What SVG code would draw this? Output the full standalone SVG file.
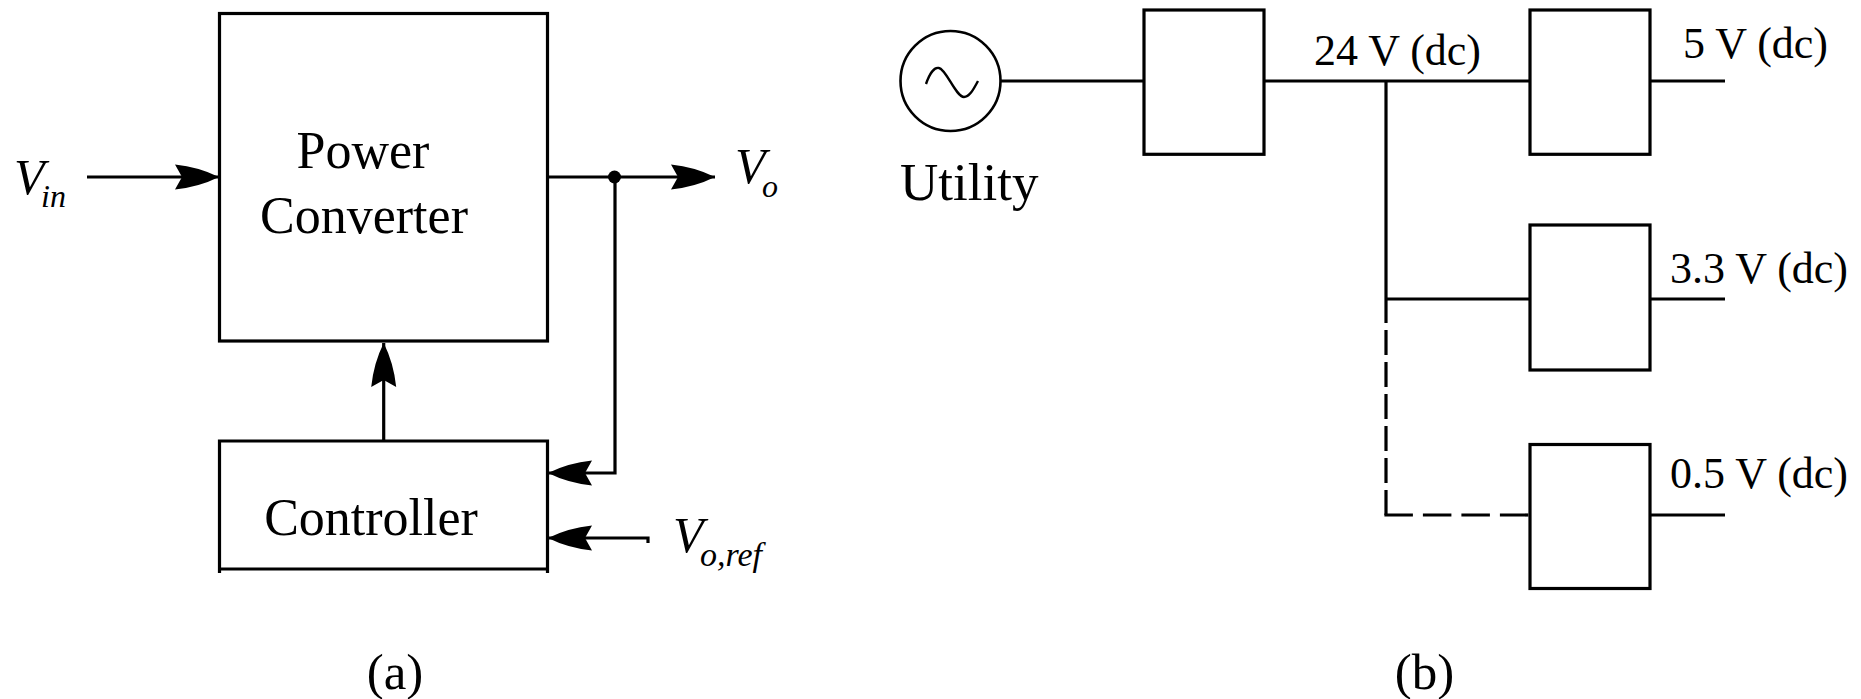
<svg xmlns="http://www.w3.org/2000/svg" width="1861" height="699" viewBox="0 0 1861 699">
<style>
.box{fill:none;stroke:#000;stroke-width:3.2}
.ln{fill:none;stroke:#000;stroke-width:3.2}
.t{font-family:"Liberation Serif","Times New Roman",serif;fill:#000}
.big{font-size:52px}
.lab{font-size:44px}
.it{font-style:italic}
</style>
<defs>
<marker id="arr" markerUnits="userSpaceOnUse" markerWidth="60" markerHeight="40" refX="0" refY="0" orient="auto" overflow="visible">
<path d="M0,0 Q-20,-10 -44,-12.5 L-37,0 L-44,12.5 Q-20,10 0,0 Z" fill="#000"/>
</marker>
</defs>
<rect width="1861" height="699" fill="#fff"/>
<g id="connectors">
<path class="ln" d="M87,177 H219" marker-end="url(#arr)"/>
<path class="ln" d="M547,177 H715" marker-end="url(#arr)"/>
<path class="ln" d="M615,177 V473 H548" marker-end="url(#arr)"/>
<path class="ln" d="M648,543 V538 H548" marker-end="url(#arr)"/>
<path class="ln" d="M383.7,441 V343" marker-end="url(#arr)"/>
<circle cx="614.5" cy="177" r="6.5" fill="#000"/>
<path class="ln" d="M1001,81 H1144"/>
<path class="ln" d="M1264,81 H1530"/>
<path class="ln" d="M1386,81 V323"/>
<path class="ln" d="M1386,299 H1530"/>
<path class="ln" d="M1386,330 V516.5" stroke-dasharray="25 7"/>
<path class="ln" d="M1384.4,515 H1530" stroke-dasharray="28.5 10"/>
<path class="ln" d="M1650,81 H1725"/>
<path class="ln" d="M1650,299 H1725"/>
<path class="ln" d="M1650,515 H1725"/>
</g>
<g id="power-converter">
<rect class="box" x="219.5" y="13.5" width="328" height="327.5"/>
<text class="t big" x="363" y="168" text-anchor="middle">Power</text>
<text class="t big" x="364" y="233" text-anchor="middle">Converter</text>
</g>
<g id="controller">
<path class="box" d="M219.5,573 V441 H547.5 V573 M219.5,569 H547.5"/>
<text class="t big" x="371" y="535" text-anchor="middle">Controller</text>
</g>
<g id="vin">
<text class="t it" x="14" y="194" font-size="50">V</text>
<text class="t it" x="41" y="207" font-size="32">in</text>
</g>
<g id="vo">
<text class="t it" x="735" y="183" font-size="50">V</text>
<text class="t it" x="762" y="197" font-size="32">o</text>
</g>
<g id="voref">
<text class="t it" x="673" y="552" font-size="50">V</text>
<text class="t it" x="700" y="566" font-size="34">o,ref</text>
</g>
<g id="label-a">
<text class="t" x="395" y="689" font-size="51" text-anchor="middle">(a)</text>
</g>
<g id="utility">
<circle cx="950.5" cy="81" r="50" fill="none" stroke="#000" stroke-width="2.6"/>
<path d="M926,84 C930,72 935,67 939,68 C946,69 956,97 964,97 C970,97 974,88 978,81" fill="none" stroke="#000" stroke-width="2.4"/>
<text class="t" x="900" y="200" font-size="53">Utility</text>
</g>
<g id="converter-main">
<rect class="box" x="1144" y="10" width="120" height="144.3"/>
</g>
<g id="bus-label">
<text class="t lab" x="1314" y="65">24 V (dc)</text>
</g>
<g id="converter-5v">
<rect class="box" x="1530" y="10" width="120" height="144.3"/>
<text class="t lab" x="1683" y="58">5 V (dc)</text>
</g>
<g id="converter-3v3">
<rect class="box" x="1530" y="225" width="120" height="145"/>
<text class="t lab" x="1670" y="283">3.3 V (dc)</text>
</g>
<g id="converter-0v5">
<rect class="box" x="1530" y="444.5" width="120" height="144"/>
<text class="t lab" x="1670" y="488">0.5 V (dc)</text>
</g>
<g id="label-b">
<text class="t" x="1424.5" y="689" font-size="51" text-anchor="middle">(b)</text>
</g>
</svg>
